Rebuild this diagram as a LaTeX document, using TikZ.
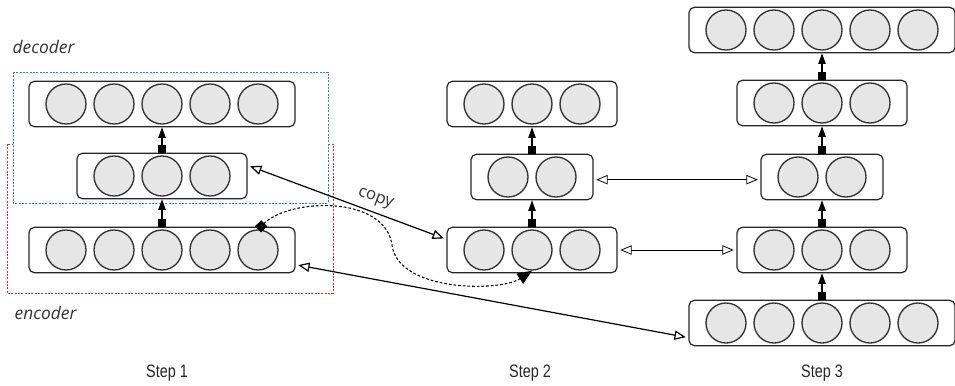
\documentclass[tikz,border=0pt]{standalone}
\usepackage{fontspec}
\setmainfont{Liberation Sans}
\newfontfamily\labelfont{Open Sans}
\newfontfamily\stepfont[FakeStretch=0.8]{Liberation Sans}
\usetikzlibrary{arrows.meta}

\definecolor{decteal}{RGB}{30,150,150}
\definecolor{encred}{RGB}{225,40,50}
\definecolor{unitgray}{RGB}{230,230,230}

% one layer: name, x, y, number of units
\newcommand{\layer}[4]{%
  \node[layer, minimum width={(36*#4+19.5)*1pt}] (#1) at (#2,#3) {};
  \foreach \i in {1,...,#4}
    \node[unit] (#1-\i) at ({#2+48*(\i-(#4+1)/2)},#3) {};
}

\begin{document}
\begin{tikzpicture}[x=0.75pt, y=-0.75pt,
  layer/.style={draw=black!85, rounded corners=4pt, minimum height=34pt, inner sep=0pt, line width=0.9pt},
  unit/.style={draw=black!80, circle, fill=unitgray, minimum size=30pt, inner sep=0pt, line width=1pt},
  feed/.style={{Square[length=5.5pt,width=6pt]}-{Triangle[length=8pt,width=5.5pt]}, line width=1pt},
  link/.style={{Triangle[open,length=8.5pt,width=7pt]}-{Triangle[open,length=8.5pt,width=7pt]}, shorten <=2pt, shorten >=2pt},
  recur/.style={dash pattern=on 2pt off 1.5pt, line width=0.8pt, {Square[length=6.5pt,width=6.5pt]}-{Triangle[length=11pt,width=9pt]}},
  tag/.style={font=\labelfont\itshape\fontsize{13}{15}\selectfont, text=black!80},
  steptag/.style={font=\stepfont\fontsize{13.5}{16}\selectfont, text=black!85}]
\useasboundingbox (0,0) rectangle (955,385);

% encoder and decoder frames
\draw[encred, dash pattern=on 1.5pt off 1pt, line width=0.7pt] (7,144) rectangle (333,293);
\draw[decteal, fill=white, dash pattern=on 1.5pt off 1pt, line width=0.7pt] (13,72) rectangle (328,203);
\node[tag, anchor=west] (dec) at (8,47) {decoder};
\node[tag, anchor=west] (enc) at (10,313) {encoder};

% step 1
\layer{s1top}{162}{104}{5}
\layer{s1mid}{162}{176}{3}
\layer{s1enc}{162}{250}{5}
\draw[feed] (s1enc.north) -- (s1mid.south);
\draw[feed] (s1mid.north) -- (s1top.south);

% step 2
\layer{s2top}{532}{104}{3}
\layer{s2mid}{532}{177}{2}
\layer{s2bot}{532}{250}{3}
\draw[feed] (s2bot.north) -- (s2mid.south);
\draw[feed] (s2mid.north) -- (s2top.south);

% step 3
\layer{s3a}{822}{30}{5}
\layer{s3b}{822}{103}{3}
\layer{s3c}{822}{177}{2}
\layer{s3d}{822}{250}{3}
\layer{s3e}{822}{323}{5}
\draw[feed] (s3e.north) -- (s3d.south);
\draw[feed] (s3d.north) -- (s3c.south);
\draw[feed] (s3c.north) -- (s3b.south);
\draw[feed] (s3b.north) -- (s3a.south);

% links between steps
\draw[link, line width=0.9pt] ([yshift=8pt]s1mid.east) -- node[pos=0.62, sloped, above=1pt, font=\labelfont\fontsize{12.5}{14}\selectfont, text=black!80] (copy) {copy} ([yshift=8pt]s2bot.west);
\draw[link, line width=0.9pt] ([yshift=-11pt]s1enc.east) -- ([yshift=-11pt]s3e.west);
\draw[link, line width=0.6pt] ([yshift=-2pt]s2mid.east) -- ([yshift=-2pt]s3c.west);
\draw[link, line width=0.6pt] (s2bot.east) -- (s3d.west);
\draw[recur] (s1enc-5.north) .. controls (290,198) and (385,195) .. (392,245)
  .. controls (398,292) and (500,292) .. (s2bot-2.south);

% step labels
\node[steptag] (step1) at (167,373) {Step 1};
\node[steptag] (step2) at (530,373) {Step 2};
\node[steptag] (step3) at (822,373) {Step 3};
\end{tikzpicture}
\end{document}
